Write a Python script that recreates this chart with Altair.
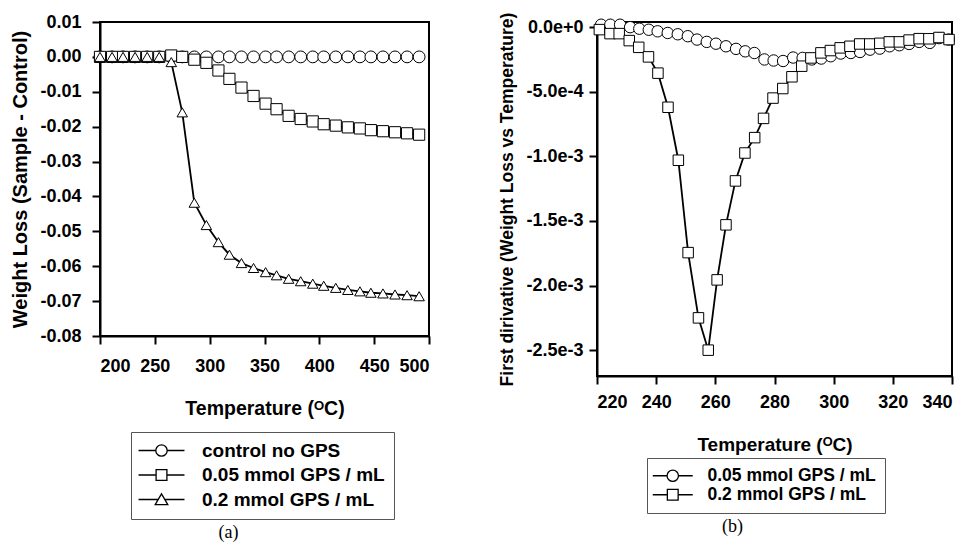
import altair as alt
import pandas as pd

# ---------------- panel (a) ----------------
labels_a = ["control no GPS", "0.05 mmol GPS / mL", "0.2 mmol GPS / mL"]
temps_a = [200, 211, 221, 232, 243, 254, 265, 275, 286, 297, 308, 318, 329, 340,
           351, 361, 372, 383, 394, 404, 415, 426, 437, 447, 458, 469, 480, 491]
control_a = [0.0, 0.0, 0.0, 0.0, 0.0, 0.0, 0.0, 0.0, 0.0, 0.0, 0.0, 0.0, 0.0, 0.0,
             0.0, 0.0, 0.0, 0.0, 0.0, 0.0, 0.0, 0.0, 0.0, 0.0, 0.0, 0.0, 0.0, 0.0]
gps005_a = [0.0, 0.0, 0.0, 0.0, 0.0, 0.0, 0.0004, 0.0, -0.0008, -0.0017, -0.0039,
            -0.0063, -0.0088, -0.0112, -0.0134, -0.0150, -0.0169, -0.0178, -0.0185,
            -0.0193, -0.0197, -0.0202, -0.0205, -0.0210, -0.0213, -0.0216, -0.0219, -0.0223]
gps02_a = [0.0, 0.0, 0.0, 0.0, 0.0, 0.0, -0.0015, -0.0159, -0.0418, -0.0482, -0.0531,
           -0.0567, -0.0591, -0.0605, -0.0617, -0.0626, -0.0636, -0.0643, -0.0650,
           -0.0656, -0.0662, -0.0668, -0.0672, -0.0676, -0.0678, -0.0681, -0.0683, -0.0686]
xticks_a = [200, 250, 300, 350, 400, 450, 500]
yticks_a = [0.01, 0.0, -0.01, -0.02, -0.03, -0.04, -0.05, -0.06, -0.07, -0.08]

# ---------------- panel (b) ----------------
labels_b = ["0.05 mmol GPS / mL", "0.2 mmol GPS / mL"]
temps_b_005 = [221.4, 224.5, 227.8, 231.2, 234.3, 237.5, 240.5, 243.9, 247.3, 250.7,
               253.8, 257.1, 260.2, 263.6, 267.0, 270.1, 273.2, 276.6, 279.7, 282.9,
               286.3, 289.5, 292.6, 295.8, 299.0, 302.4, 305.8, 308.9, 312.3, 315.6,
               318.9, 322.2, 325.5, 328.9, 332.5, 335.6, 338.9]
deriv_005 = [1.9e-5, 1.9e-5, 1.9e-5, 0.0, -1.2e-5, -2.0e-5, -3.2e-5, -4.5e-5, -5.5e-5,
             -7.0e-5, -9.6e-5, -1.14e-4, -1.28e-4, -1.48e-4, -1.68e-4, -1.87e-4, -2.0e-4,
             -2.5e-4, -2.58e-4, -2.62e-4, -2.35e-4, -2.38e-4, -2.5e-4, -2.43e-4, -2.25e-4,
             -2.04e-4, -2.0e-4, -1.92e-4, -1.74e-4, -1.66e-4, -1.48e-4, -1.40e-4, -1.30e-4,
             -1.14e-4, -1.22e-4, -8.5e-5, -9.6e-5]
temps_b_02 = [220.8, 224.4, 227.5, 230.9, 234.1, 237.4, 240.6, 244.0, 247.5, 250.8,
              254.3, 257.6, 260.6, 263.6, 266.8, 270.0, 273.3, 276.3, 279.5, 282.8,
              285.9, 289.2, 292.3, 295.7, 298.9, 302.2, 305.5, 308.8, 312.2, 315.6,
              318.8, 322.2, 325.5, 328.9, 332.2, 335.6, 339.0]
deriv_02 = [-1.9e-5, -5.0e-5, -5.0e-5, -1.04e-4, -1.56e-4, -2.3e-4, -3.56e-4, -6.2e-4,
            -1.03e-3, -1.745e-3, -2.25e-3, -2.5e-3, -1.956e-3, -1.53e-3, -1.19e-3,
            -9.74e-4, -8.55e-4, -7.06e-4, -5.49e-4, -4.75e-4, -3.84e-4, -3.02e-4,
            -2.38e-4, -1.99e-4, -1.81e-4, -1.6e-4, -1.48e-4, -1.3e-4, -1.3e-4, -1.25e-4,
            -1.14e-4, -1.14e-4, -1.0e-4, -8.9e-5, -9.0e-5, -8.0e-5, -9.6e-5]
xticks_b = [220, 240, 260, 280, 300, 320, 340]
yticks_b = [0.0, -0.0005, -0.001, -0.0015, -0.002, -0.0025]

FONT = "Liberation Sans"
MINUS = "\u2212"

df_a = pd.DataFrame({
    "temp": temps_a * 3,
    "value": control_a + gps005_a + gps02_a,
    "series": [labels_a[0]] * len(temps_a) + [labels_a[1]] * len(temps_a) + [labels_a[2]] * len(temps_a),
})
df_b = pd.DataFrame({
    "temp": temps_b_005 + temps_b_02,
    "value": deriv_005 + deriv_02,
    "series": [labels_b[0]] * len(temps_b_005) + [labels_b[1]] * len(temps_b_02),
})


def legend_paths(half):
    h = str(half)
    circle = f"M-{h},0L-0.95,0M0.95,0L{h},0M-0.95,0A0.95,0.95,0,1,1,0.95,0A0.95,0.95,0,1,1,-0.95,0Z"
    square = f"M-{h},0L-0.9,0M0.9,0L{h},0M-0.9,-0.9L0.9,-0.9L0.9,0.9L-0.9,0.9Z"
    tri = f"M-{h},0L-0.55,0M0.55,0L{h},0M0,-0.95L1.05,0.85L-1.05,0.85Z"
    return circle, square, tri


def panel(df, labels, shapes, sizes, paths, xdom, ydom, xticks, yticks, xfmt, yfmt,
          width, height, xaxis_kw, yaxis_kw, legend_kw, caption, caption_dx):
    x = alt.X("temp:Q", scale=alt.Scale(domain=xdom, nice=False, zero=False),
              axis=alt.Axis(values=xticks, format=xfmt, title="Temperature (\u1d3cC)",
                            grid=False, **xaxis_kw))
    y = alt.Y("value:Q", scale=alt.Scale(domain=ydom, nice=False, zero=False),
              axis=alt.Axis(values=yticks, grid=False,
                            labelExpr=f"replace(format(datum.value, '{yfmt}'), '{MINUS}', '-')",
                            **yaxis_kw))
    base = alt.Chart(df)
    lines = base.mark_line(color="black", strokeWidth=1.8).encode(
        x=x, y=y, detail="series:N")
    points = base.mark_point(filled=True, fill="white", stroke="black", strokeWidth=1,
                             opacity=1).encode(
        x=x, y=y,
        shape=alt.Shape("series:N", scale=alt.Scale(domain=labels, range=shapes), legend=None),
        size=alt.Size("series:N", scale=alt.Scale(domain=labels, range=sizes), legend=None),
    )
    legend_layer = base.transform_filter("false").mark_point(
        filled=False, stroke="black", strokeWidth=1.3, opacity=1).encode(
        shape=alt.Shape("series:N", scale=alt.Scale(domain=labels, range=paths),
                        legend=alt.Legend(title=None, orient="none", direction="vertical",
                                          labelFont=FONT, labelFontWeight="bold",
                                          labelColor="black", labelLimit=400,
                                          symbolSize=144, symbolStrokeWidth=1.3,
                                          symbolStrokeColor="black",
                                          strokeColor="#555555", fillColor="white",
                                          padding=9, **legend_kw)))
    return alt.layer(lines, points, legend_layer).resolve_scale(
        shape="independent", size="independent").properties(
        width=width, height=height,
        title=alt.TitleParams(caption, orient="bottom", anchor="middle",
                              font="Liberation Serif", fontSize=18, fontWeight="normal",
                              color="black", dx=caption_dx, offset=4))


left = panel(
    df_a, labels_a, ["circle", "square", "triangle-up"], [140, 110, 170],
    list(legend_paths(3.83)), [200, 500], [-0.08, 0.01], xticks_a, yticks_a, "d", ".2f",
    329, 314,
    dict(labelFontSize=18, titleFontSize=19.5, tickSize=8, labelPadding=13, titlePadding=24),
    dict(labelFontSize=18, titleFontSize=20, tickSize=8, labelPadding=11, titlePadding=9,
         title="Weight Loss (Sample - Control)"),
    dict(legendX=31, legendY=410, labelFontSize=19, symbolOffset=12, labelOffset=31,
         rowPadding=4.5),
    "(a)", -36)

right = panel(
    df_b, labels_b, ["circle", "square"], [130, 110],
    list(legend_paths(3.33))[:2], [220, 340], [-0.0027, 0.00004], xticks_b, yticks_b, "d", ".1e",
    355, 354,
    dict(labelFontSize=18, titleFontSize=19, tickSize=8, labelPadding=9, titlePadding=24),
    dict(labelFontSize=18, titleFontSize=17.5, tickSize=8, labelPadding=6, titlePadding=9,
         title="First dirivative (Weight Loss vs Temperature)"),
    dict(legendX=50, legendY=436, labelFontSize=17.5, symbolOffset=8, labelOffset=26,
         rowPadding=0),
    "(b)", -42)

chart = alt.hconcat(left, right, spacing=66).properties(
    padding={"left": 1, "top": 3, "right": 0, "bottom": 0}
).configure_view(stroke="black", strokeWidth=2).configure_axis(
    domainColor="black", domainWidth=2, tickColor="black", tickWidth=2,
    labelColor="black", titleColor="black", labelFont=FONT, titleFont=FONT,
    labelFontWeight="bold", titleFontWeight="bold"
).configure_title(font="Liberation Serif")

chart.save("out.html", embed_options={"renderer": "svg", "actions": False})
